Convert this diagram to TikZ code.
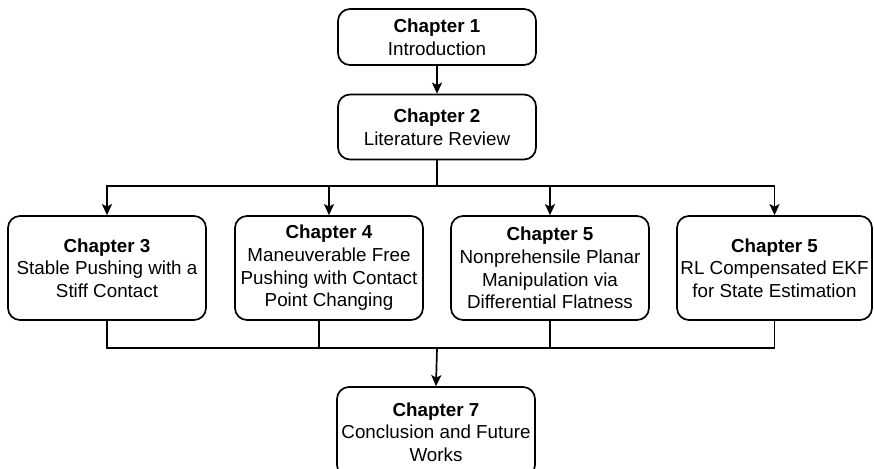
\documentclass[tikz,border=0pt]{standalone}
\usepackage{fontspec}
\setmainfont{Liberation Sans}
\usetikzlibrary{arrows.meta,calc}
\begin{document}
\begin{tikzpicture}[x=1pt,y=-1pt,
  chap/.style={draw=black, line width=1.7pt, rounded corners=12pt, fill=white,
    align=center, inner sep=2pt, font=\fontsize{18.8}{22.6}\selectfont},
  conn/.style={line width=1.7pt, draw=black},
  arr/.style={conn, -{Stealth[length=11pt,width=10pt,inset=2.5pt]}}]
\useasboundingbox (0,0) rectangle (874,468);
\node[chap, minimum width=198pt, minimum height=56pt] (c1) at (437,37) {\textbf{Chapter 1}\\Introduction};
\node[chap, minimum width=198pt, minimum height=65pt] (c2) at (437,127) {\textbf{Chapter 2}\\Literature Review};
\node[chap, minimum width=198pt, minimum height=104pt] (c3) at (107,268) {\textbf{Chapter 3}\\Stable Pushing with a\\Stiff Contact};
\node[chap, minimum width=188pt, minimum height=104pt] (c4) at (329,268) {\textbf{Chapter 4}\\Maneuverable Free\\Pushing with Contact\\Point Changing};
\node[chap, minimum width=198pt, minimum height=104pt] (c5) at (550,268) {\textbf{Chapter 5}\\Nonprehensile Planar\\Manipulation via\\Differential Flatness};
\node[chap, minimum width=195pt, minimum height=104pt] (c6) at (774.5,268) {\textbf{Chapter 5}\\RL Compensated EKF\\for State Estimation};
\node[chap, minimum width=198pt, minimum height=90pt] (c7) at (436,432) {\textbf{Chapter 7}\\Conclusion and Future\\Works};
\coordinate (j1) at (437,186);
\coordinate (j2) at (437,348);
\draw[arr] (c1.south) -- (c2.north);
\draw[conn] (c2.south) -- (j1);
\draw[arr] (j1) -| (c3.north);
\draw[arr] (j1) -| (c4.north);
\draw[arr] (j1) -| (c5.north);
\draw[arr] (j1) -| (c6.north);
\draw[conn] ([xshift=-10pt]c4.south) |- (j2);
\draw[conn] (c3.south) |- (j2);
\draw[conn] (c5.south) |- (j2);
\draw[conn] (c6.south) |- (j2);
\draw[arr] (j2) -- (c7.north);
\end{tikzpicture}
\end{document}
